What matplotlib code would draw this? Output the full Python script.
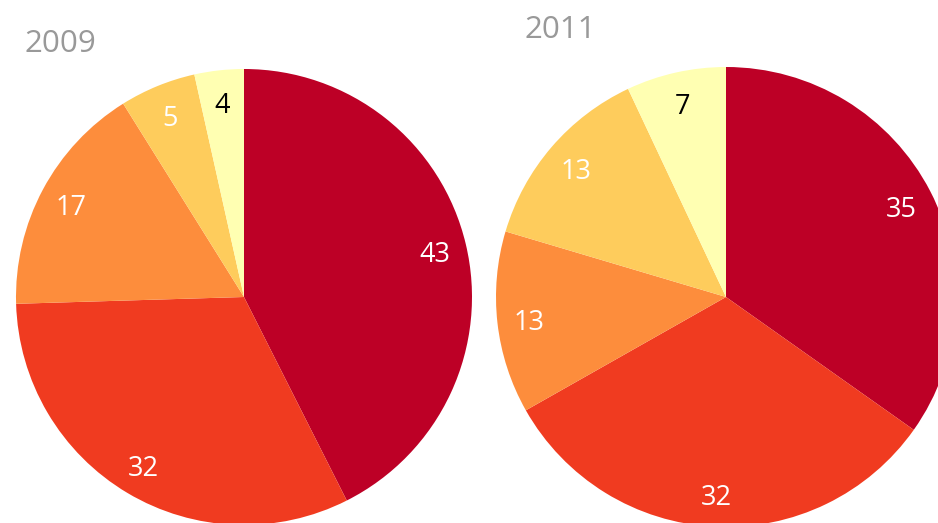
import matplotlib.pyplot as plt

plt.rcParams['font.family'] = ['Open Sans', 'DejaVu Sans']

titles = ['2009', '2011']
# slice shares and the rounded labels shown on them
shares_2009 = [42.6, 32.0, 16.6, 5.4, 3.5]
labels_2009 = ['43', '32', '17', '5', '4']
shares_2011 = [34.8, 32.0, 12.8, 13.4, 7.0]
labels_2011 = ['35', '32', '13', '13', '7']
colors = ['#bd0026', '#f03b20', '#fd8d3c', '#fecc5c', '#ffffb2']
label_colors = ['white', 'white', 'white', 'white', 'black']

W, H = 938, 523
fig = plt.figure(figsize=(W / 100, H / 100), dpi=100)


def px_axes(cx, cy, r):
    # axes box in pixel coords (y measured from top)
    return fig.add_axes([(cx - r) / W, (H - cy - r) / H, 2 * r / W, 2 * r / H])


def draw_pie(ax, vals, labels):
    wedges, texts = ax.pie(vals, labels=labels, colors=colors,
                           startangle=90, counterclock=False, labeldistance=0.86,
                           wedgeprops=dict(linewidth=0),
                           textprops=dict(fontsize=19.5))
    for t, c in zip(texts, label_colors):
        t.set_ha('center')
        t.set_va('center_baseline')
        t.set_color(c)
    ax.set_xlim(-1, 1)
    ax.set_ylim(-1, 1)
    ax.set_aspect('auto')
    ax.axis('off')


ax1 = px_axes(244, 297, 228)
draw_pie(ax1, shares_2009, labels_2009)
ax2 = px_axes(726, 297, 230)
draw_pie(ax2, shares_2011, labels_2011)

fig.text(25 / W, 1 - 40 / H, titles[0], fontsize=22.5, color='#999999', ha='left', va='center_baseline')
fig.text(525 / W, 1 - 27 / H, titles[1], fontsize=22.5, color='#999999', ha='left', va='center_baseline')

fig.savefig('out.png', dpi=100)
